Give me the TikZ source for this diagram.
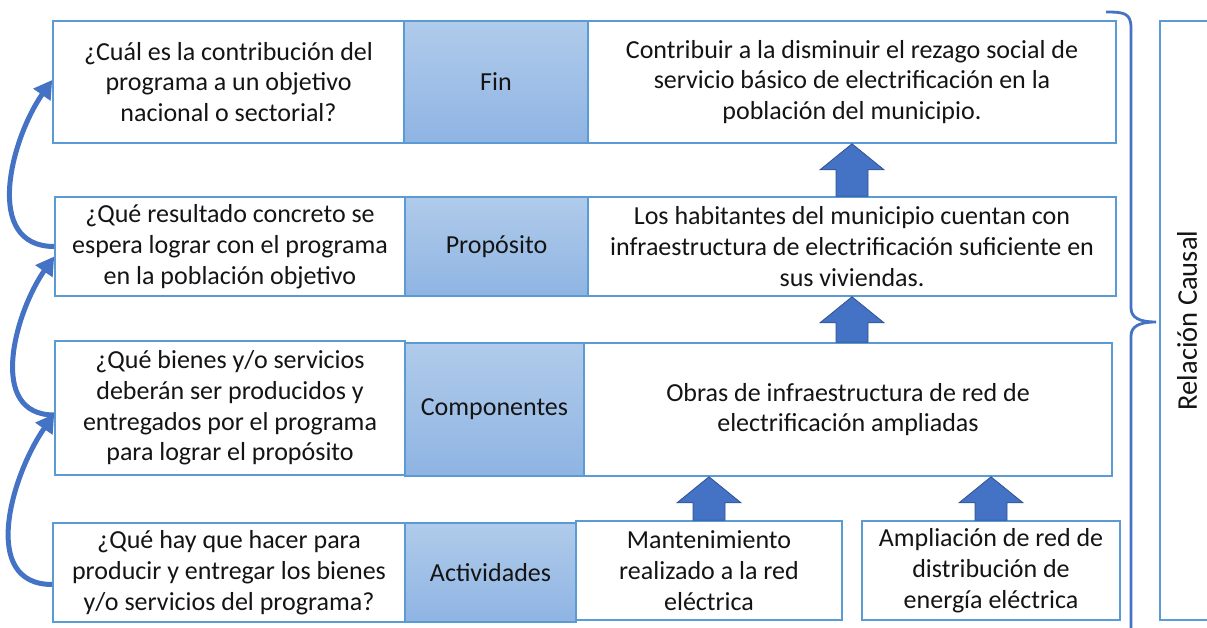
\documentclass[tikz,border=0pt]{standalone}
\usepackage{fontspec}
\setmainfont{Carlito}
\usetikzlibrary{arrows.meta,calc}
\definecolor{bord}{RGB}{91,155,213}
\definecolor{lblt}{RGB}{176,203,234}
\definecolor{lblb}{RGB}{143,180,227}
\definecolor{arr}{RGB}{68,114,196}
\definecolor{arrd}{RGB}{47,82,143}
\definecolor{txt}{RGB}{20,20,20}
\newcommand\blockup[2]{%
  \path[barrow] let \p1=(#1), \p2=(#2) in
    (\x1,\y1) -- (\x1+32pt,\y1-26pt) -- (\x1+16pt,\y1-26pt) -- (\x1+16pt,\y2)
    -- (\x1-16pt,\y2) -- (\x1-16pt,\y1-26pt) -- (\x1-32pt,\y1-26pt) -- cycle;}
\begin{document}
\begin{tikzpicture}[x=1pt,y=-1pt,
  box/.style={draw=bord,line width=1.6pt,fill=white,inner sep=0pt,align=center,
    font=\fontsize{26}{30.8}\selectfont,text=txt},
  lbl/.style={box,top color=lblt,bottom color=lblb},
  barrow/.style={fill=arr,draw=arrd,line width=0.8pt},
  carrow/.style={draw=arr,line width=5pt,-{Triangle[length=18pt,width=20pt]}},
  brace/.style={draw=arr,line width=2.8pt}]
\useasboundingbox (0,0) rectangle (1207,628);
% label boxes
\node[lbl,minimum width=184,minimum height=122] (lFin) at (496,82) {Fin};
\node[lbl,minimum width=183,minimum height=99] (lProp) at (496.5,246.5) {Propósito};
\node[lbl,minimum width=179,minimum height=133] (lComp) at (494.5,409.5) {Componentes};
\node[lbl,minimum width=171,minimum height=99] (lAct) at (490.5,572.5) {Actividades};
% question boxes
\node[box,minimum width=351,minimum height=122] (qFin) at (228.5,82)
  {¿Cuál es la contribución del\\programa a un objetivo\\nacional o sectorial?};
\node[box,minimum width=350,minimum height=99] (qProp) at (230,246.5)
  {¿Qué resultado concreto se\\espera lograr con el programa\\en la población objetivo};
\node[box,minimum width=350,minimum height=134] (qComp) at (230,408)
  {¿Qué bienes y/o servicios\\deberán ser producidos y\\entregados por el programa\\para lograr el propósito};
\node[box,minimum width=352,minimum height=99] (qAct) at (229,572.5)
  {¿Qué hay que hacer para\\producir y entregar los bienes\\y/o servicios del programa?};
% right boxes
\node[box,minimum width=528,minimum height=122] (rFin) at (852,82)
  {Contribuir a la disminuir el rezago social de\\servicio básico de electrificación en la\\población del municipio.};
\node[box,minimum width=528,minimum height=99] (rProp) at (852,246.5)
  {Los habitantes del municipio cuentan con\\infraestructura de electrificación suficiente en\\sus viviendas.};
\node[box,minimum width=528,minimum height=133] (rComp) at (848,409.5)
  {Obras de infraestructura de red de\\electrificación ampliadas};
\node[box,minimum width=266,minimum height=99] (rMant) at (709,570.5)
  {Mantenimiento\\realizado a la red\\eléctrica};
\node[box,minimum width=258,minimum height=99] (rAmp) at (991,570.5)
  {Ampliación de red de\\distribución de\\energía eléctrica};
% block arrows
\blockup{rFin.south}{rProp.north}
\blockup{rProp.south}{rProp.south |- rComp.north}
\blockup{rMant.north |- rComp.south}{rMant.north}
\blockup{rAmp.north |- rComp.south}{rAmp.north}
% curved arrows
\draw[carrow] (qProp.west) to[out=180,in=235,looseness=1.1] ([yshift=2pt]qFin.west);
\draw[carrow] ([yshift=-7pt]qComp.west) to[out=180,in=235,looseness=1.1] ([yshift=-10pt]qProp.west);
\draw[carrow] ([yshift=-12pt]qAct.west) to[out=180,in=235,looseness=1.1] ([yshift=-6pt]qComp.west);
% brace and causal box
\begin{scope}
\clip (0,0) rectangle (1207,628);
\node[box,rotate=90,minimum width=599,minimum height=54,
  font=\fontsize{28.5}{32}\selectfont] (causal) at (1187,320.5) {Relación Causal};
\coordinate (btop) at (1106,12);
\coordinate (btip) at (1156,322);
\path[brace] (btop) .. controls (1124,12) and (1131,13) .. (1131,28) -- (1131,308)
  .. controls (1131,318) and (1140,322) .. (btip)
  .. controls (1140,322) and (1131,326) .. (1131,336) -- (1131,640);
\end{scope}
\end{tikzpicture}
\end{document}
